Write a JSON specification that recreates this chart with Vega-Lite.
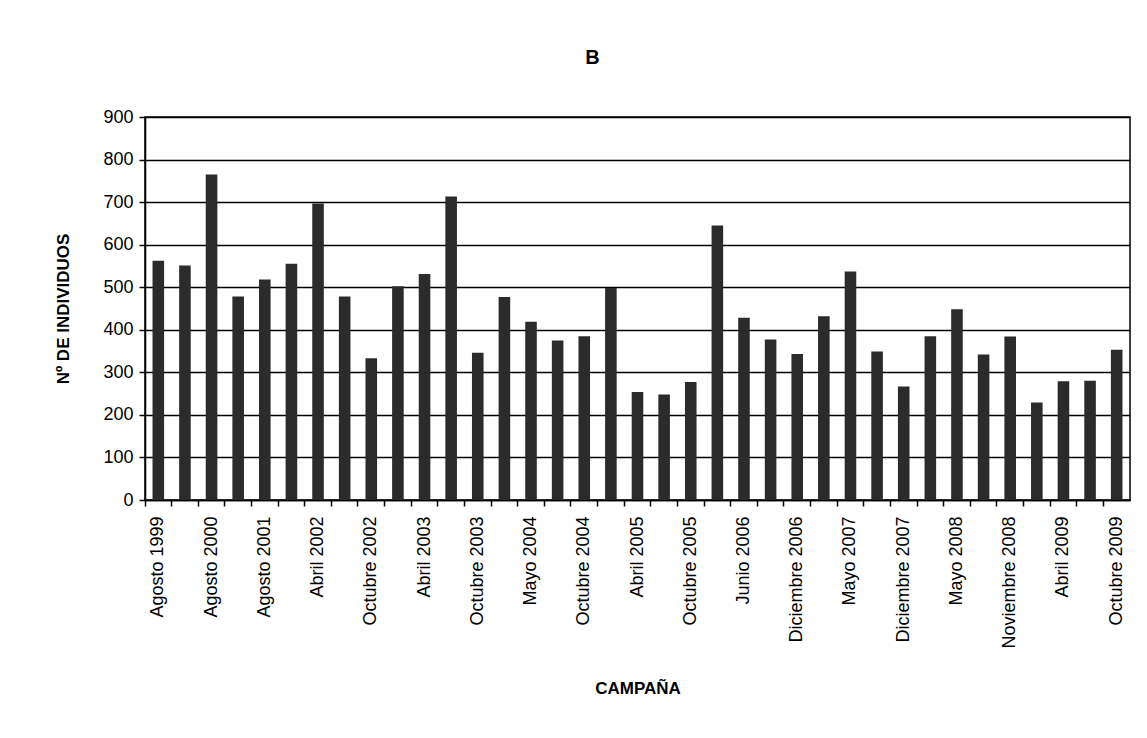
{
  "$schema": "https://vega.github.io/schema/vega-lite/v6.json",
  "width": 985,
  "height": 383,
  "autosize": {"type": "none"},
  "padding": {"left": 145, "top": 117, "right": 17, "bottom": 238},
  "background": "white",
  "title": {
    "text": "B",
    "font": "Liberation Sans",
    "fontSize": 20,
    "fontWeight": "bold",
    "color": "black",
    "anchor": "middle",
    "frame": "bounds",
    "offset": 40
  },
  "data": {
    "values": [
      {"orden": 1, "campana": "Agosto 1999", "individuos": 562},
      {"orden": 2, "campana": "Campaña 2", "individuos": 551},
      {"orden": 3, "campana": "Agosto 2000", "individuos": 765},
      {"orden": 4, "campana": "Campaña 4", "individuos": 478},
      {"orden": 5, "campana": "Agosto 2001", "individuos": 518},
      {"orden": 6, "campana": "Campaña 6", "individuos": 555},
      {"orden": 7, "campana": "Abril 2002", "individuos": 697},
      {"orden": 8, "campana": "Campaña 8", "individuos": 478},
      {"orden": 9, "campana": "Octubre 2002", "individuos": 333},
      {"orden": 10, "campana": "Campaña 10", "individuos": 502},
      {"orden": 11, "campana": "Abril 2003", "individuos": 531},
      {"orden": 12, "campana": "Campaña 12", "individuos": 713},
      {"orden": 13, "campana": "Octubre 2003", "individuos": 346},
      {"orden": 14, "campana": "Campaña 14", "individuos": 477},
      {"orden": 15, "campana": "Mayo 2004", "individuos": 419},
      {"orden": 16, "campana": "Campaña 16", "individuos": 375},
      {"orden": 17, "campana": "Octubre 2004", "individuos": 385},
      {"orden": 18, "campana": "Campaña 18", "individuos": 498},
      {"orden": 19, "campana": "Abril 2005", "individuos": 254},
      {"orden": 20, "campana": "Campaña 20", "individuos": 248},
      {"orden": 21, "campana": "Octubre 2005", "individuos": 277},
      {"orden": 22, "campana": "Campaña 22", "individuos": 645},
      {"orden": 23, "campana": "Junio 2006", "individuos": 428},
      {"orden": 24, "campana": "Campaña 24", "individuos": 377},
      {"orden": 25, "campana": "Diciembre 2006", "individuos": 343},
      {"orden": 26, "campana": "Campaña 26", "individuos": 432},
      {"orden": 27, "campana": "Mayo 2007", "individuos": 537},
      {"orden": 28, "campana": "Campaña 28", "individuos": 349},
      {"orden": 29, "campana": "Diciembre 2007", "individuos": 267},
      {"orden": 30, "campana": "Campaña 30", "individuos": 385},
      {"orden": 31, "campana": "Mayo 2008", "individuos": 448},
      {"orden": 32, "campana": "Campaña 32", "individuos": 342},
      {"orden": 33, "campana": "Noviembre 2008", "individuos": 384},
      {"orden": 34, "campana": "Campaña 34", "individuos": 229},
      {"orden": 35, "campana": "Abril 2009", "individuos": 279},
      {"orden": 36, "campana": "Campaña 36", "individuos": 280},
      {"orden": 37, "campana": "Octubre 2009", "individuos": 353}
    ]
  },
  "layer": [
    {
      "mark": {"type": "bar", "color": "#2b2b2b"},
      "encoding": {
        "x": {
          "field": "campana",
          "type": "nominal",
          "sort": {"field": "orden"},
          "scale": {"paddingInner": 0.565, "paddingOuter": 0.2825},
          "axis": {
            "orient": "bottom",
            "title": "CAMPAÑA",
            "titleFont": "Liberation Sans",
            "titleFontSize": 17,
            "titleFontWeight": "bold",
            "titleColor": "black",
            "titlePadding": 32,
            "values": ["Agosto 1999", "Agosto 2000", "Agosto 2001", "Abril 2002", "Octubre 2002", "Abril 2003", "Octubre 2003", "Mayo 2004", "Octubre 2004", "Abril 2005", "Octubre 2005", "Junio 2006", "Diciembre 2006", "Mayo 2007", "Diciembre 2007", "Mayo 2008", "Noviembre 2008", "Abril 2009", "Octubre 2009"],
            "labelAngle": -90,
            "labelFont": "Liberation Sans",
            "labelFontSize": 18,
            "labelColor": "black",
            "labelPadding": 16,
            "ticks": false,
            "domain": true,
            "domainColor": "black",
            "domainWidth": 1.5,
            "grid": false
          }
        },
        "y": {
          "field": "individuos",
          "type": "quantitative",
          "scale": {"domain": [0, 900], "nice": false},
          "axis": {
            "title": "Nº DE INDIVIDUOS",
            "titleFont": "Liberation Sans",
            "titleFontSize": 17,
            "titleFontWeight": "bold",
            "titleColor": "black",
            "titlePadding": 30,
            "values": [0, 100, 200, 300, 400, 500, 600, 700, 800, 900],
            "labelFont": "Liberation Sans",
            "labelFontSize": 18,
            "labelColor": "black",
            "labelPadding": 6,
            "tickSize": 6,
            "tickColor": "black",
            "tickWidth": 1.5,
            "domainColor": "black",
            "domainWidth": 1.5,
            "grid": true,
            "gridColor": "black",
            "gridWidth": 1.6,
            "gridOpacity": 1
          }
        }
      }
    },
    {
      "mark": {"type": "bar", "opacity": 0},
      "encoding": {
        "x": {
          "field": "campana",
          "type": "nominal",
          "sort": {"field": "orden"},
          "scale": {"paddingInner": 0, "paddingOuter": 0},
          "axis": {
            "orient": "bottom",
            "title": null,
            "labels": false,
            "domain": false,
            "grid": false,
            "ticks": true,
            "bandPosition": 0,
            "tickSize": 6,
            "tickColor": "black",
            "tickWidth": 1.5
          }
        }
      }
    }
  ],
  "resolve": {"scale": {"x": "independent"}},
  "config": {
    "view": {"stroke": "black", "strokeWidth": 1.5}
  }
}
